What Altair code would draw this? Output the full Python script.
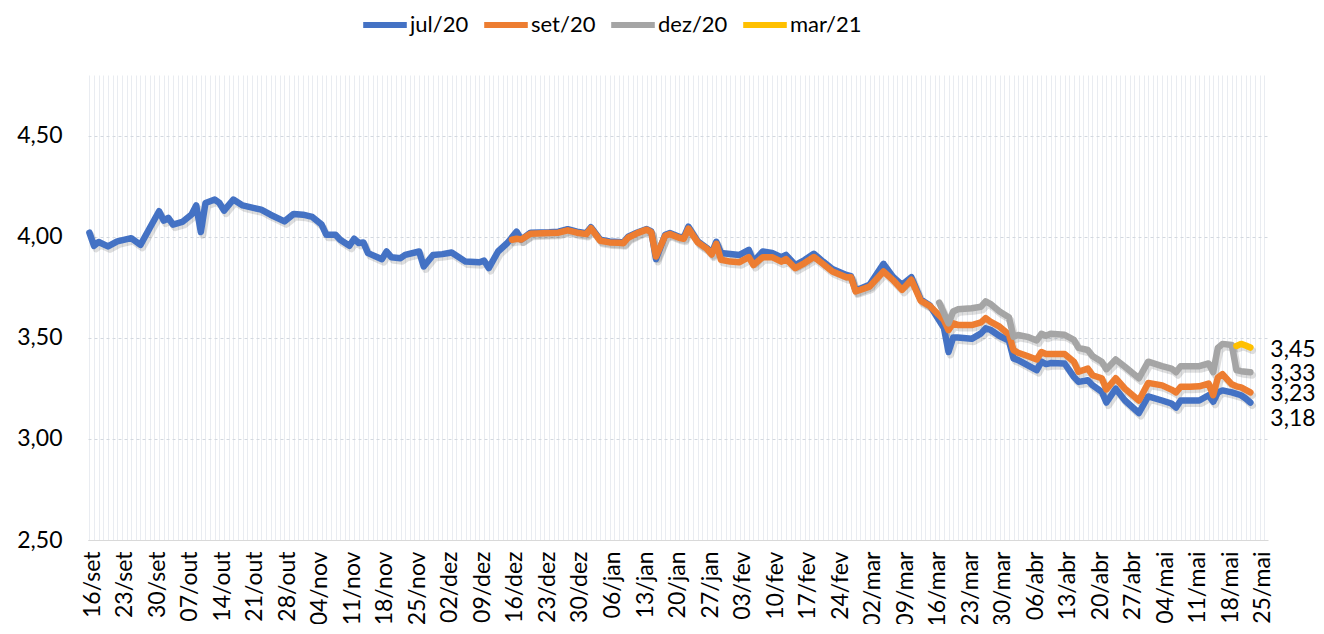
import json
import altair as alt
import pandas as pd

SERIES = ["jul/20", "set/20", "dez/20", "mar/21"]
COLORS = ["#4472C4", "#ED7D31", "#A5A5A5", "#FFC000"]

WEEK_LABELS = ["16/set", "23/set", "30/set", "07/out", "14/out", "21/out", "28/out",
               "04/nov", "11/nov", "18/nov", "25/nov", "02/dez", "09/dez", "16/dez",
               "23/dez", "30/dez", "06/jan", "13/jan", "20/jan", "27/jan", "03/fev",
               "10/fev", "17/fev", "24/fev", "02/mar", "09/mar", "16/mar", "23/mar",
               "30/mar", "06/abr", "13/abr", "20/abr", "27/abr", "04/mai", "11/mai",
               "18/mai", "25/mai"]
Y_TICKS = [2.5, 3.0, 3.5, 4.0, 4.5]

# day = days since 16/set/2019
JUL_DAY = [0, 1, 2, 4, 6, 9, 11, 13, 15, 16, 17, 18, 20, 22, 23, 24, 25, 27, 28, 29, 31, 33,
           36, 37, 39, 42, 44, 46, 48, 50, 51, 53, 54, 56, 57, 58, 59, 60, 63, 64, 65, 67,
           68, 71, 72, 74, 76, 78, 81, 84, 85, 86, 88, 90, 92, 93, 95, 99, 101, 103, 105,
           107, 108, 110, 112, 114, 115, 116, 118, 120, 121, 122, 124, 125, 127, 128, 129,
           131, 133, 134, 135, 136, 138, 140, 142, 143, 145, 147, 149, 150, 152, 154, 156,
           158, 160, 163, 164, 165, 168, 171, 173, 175, 177, 179, 181, 184, 185, 186, 187,
           190, 192, 193, 194, 196, 198, 199, 200, 202, 204, 205, 206, 207, 210, 212, 213,
           215, 216, 218, 219, 221, 223, 226, 228, 231, 233, 234, 235, 237, 239, 241, 242,
           243, 244, 246, 248, 249, 250]
JUL_VAL = [4.02, 3.955, 3.974, 3.952, 3.977, 3.993, 3.96, 4.043, 4.126, 4.08, 4.093, 4.06,
           4.073, 4.11, 4.155, 4.023, 4.167, 4.184, 4.167, 4.129, 4.184, 4.155, 4.139, 4.134,
           4.109, 4.076, 4.113, 4.109, 4.098, 4.06, 4.01, 4.01, 3.985, 3.955, 3.99, 3.969,
           3.972, 3.919, 3.889, 3.927, 3.899, 3.894, 3.91, 3.927, 3.853, 3.91, 3.914, 3.922,
           3.877, 3.874, 3.882, 3.845, 3.927, 3.969, 4.025, 3.986, 4.02, 4.022, 4.025, 4.037,
           4.025, 4.018, 4.047, 3.985, 3.977, 3.974, 3.972, 4.0, 4.021, 4.038, 4.026, 3.89,
           4.01, 4.018, 4.0, 3.997, 4.05, 3.977, 3.944, 3.919, 3.975, 3.92, 3.915, 3.91,
           3.935, 3.877, 3.927, 3.92, 3.899, 3.91, 3.86, 3.885, 3.916, 3.877, 3.84, 3.811,
           3.805, 3.734, 3.762, 3.866, 3.803, 3.762, 3.80, 3.69, 3.66, 3.55, 3.43, 3.502,
           3.502, 3.495, 3.522, 3.547, 3.54, 3.509, 3.487, 3.398, 3.39, 3.365, 3.34, 3.382,
           3.37, 3.375, 3.373, 3.307, 3.282, 3.29, 3.266, 3.233, 3.18, 3.248, 3.19, 3.128,
           3.21, 3.19, 3.175, 3.155, 3.19, 3.19, 3.19, 3.216, 3.184, 3.23, 3.24, 3.23, 3.216,
           3.20, 3.18]

SET_DAY = [91, 92, 93, 95, 99, 101, 103, 105, 107, 108, 110, 112, 114, 115, 116, 118, 120,
           121, 122, 124, 125, 127, 128, 129, 131, 133, 134, 135, 136, 138, 140, 142, 143,
           145, 147, 149, 150, 152, 154, 156, 158, 160, 163, 164, 165, 168, 171, 173, 175,
           177, 179, 181, 184, 185, 186, 187, 190, 192, 193, 194, 196, 198, 199, 200, 202,
           204, 205, 206, 207, 210, 212, 213, 215, 216, 218, 219, 221, 223, 226, 228, 231,
           233, 234, 235, 237, 239, 241, 242, 243, 244, 246, 247, 248, 250]
SET_VAL = [3.985, 3.99, 3.986, 4.015, 4.018, 4.02, 4.032, 4.02, 4.013, 4.042, 3.98, 3.972,
           3.97, 3.968, 3.995, 4.018, 4.035, 4.022, 3.902, 4.005, 4.013, 3.995, 3.99, 4.04,
           3.972, 3.94, 3.912, 3.965, 3.886, 3.877, 3.874, 3.899, 3.86, 3.899, 3.899, 3.877,
           3.89, 3.845, 3.87, 3.9, 3.865, 3.828, 3.80, 3.80, 3.729, 3.753, 3.828, 3.787,
           3.737, 3.787, 3.684, 3.657, 3.588, 3.538, 3.572, 3.564, 3.563, 3.576, 3.597, 3.58,
           3.555, 3.517, 3.439, 3.426, 3.41, 3.393, 3.43, 3.42, 3.42, 3.42, 3.382, 3.332,
           3.348, 3.315, 3.30, 3.245, 3.30, 3.248, 3.19, 3.277, 3.265, 3.244, 3.23, 3.258,
           3.258, 3.26, 3.274, 3.216, 3.303, 3.32, 3.27, 3.26, 3.255, 3.23]

DEZ_DAY = [183, 185, 186, 187, 190, 192, 193, 194, 196, 198, 199, 200, 202, 204, 205, 206,
           207, 210, 212, 213, 215, 216, 218, 219, 221, 223, 226, 228, 231, 233, 234, 235,
           237, 239, 241, 242, 243, 244, 246, 247, 248, 250]
DEZ_VAL = [3.674, 3.572, 3.63, 3.641, 3.646, 3.654, 3.68, 3.668, 3.63, 3.602, 3.505, 3.514,
           3.505, 3.487, 3.52, 3.51, 3.52, 3.515, 3.49, 3.45, 3.44, 3.41, 3.382, 3.345,
           3.393, 3.357, 3.30, 3.382, 3.36, 3.348, 3.33, 3.36, 3.36, 3.36, 3.373, 3.33,
           3.45, 3.47, 3.465, 3.34, 3.335, 3.33]

MAR_DAY = [247, 248, 249, 250]
MAR_VAL = [3.46, 3.47, 3.462, 3.452]

rows = []
for name, days, vals in [("jul/20", JUL_DAY, JUL_VAL), ("set/20", SET_DAY, SET_VAL),
                         ("dez/20", DEZ_DAY, DEZ_VAL), ("mar/21", MAR_DAY, MAR_VAL)]:
    for d, v in zip(days, vals):
        rows.append({"series": name, "day": d, "value": v})
df = pd.DataFrame(rows)

end = df.groupby("series", sort=False).tail(1).copy()
end["label"] = end["value"].map(lambda v: f"{v:.2f}".replace(".", ","))

FONT = "Lato"
FS = 23

x_label_expr = ("datum.value % 7 === 0 ? " + json.dumps(WEEK_LABELS) +
                "[datum.value / 7] : ''")

x_enc = alt.X("day:Q",
              scale=alt.Scale(domain=[-0.3, 253.8], nice=False, zero=False),
              axis=alt.Axis(values=list(range(0, 254)), tickCount=400,
                            labelExpr=x_label_expr,
                            grid=True, gridColor="#e9ecf1", gridWidth=1,
                            ticks=False, domainColor="#d9d9d9", domainWidth=1,
                            labelAngle=270, labelFont=FONT, labelFontSize=FS,
                            labelColor="black", labelPadding=11, labelOffset=3,
                            labelOverlap=False,
                            labelFlush=False, labelBound=False, title=None))
y_enc = alt.Y("value:Q",
              scale=alt.Scale(domain=[2.5, 4.8], nice=False, zero=False),
              axis=alt.Axis(values=Y_TICKS,
                            labelExpr="replace(format(datum.value, '.2f'), '.', ',')",
                            grid=True, gridDash=[3, 3], gridColor="#d3d8df",
                            domain=False, ticks=False, labelFont=FONT, labelFontSize=FS,
                            labelColor="black", labelPadding=26, title=None))

base = alt.Chart(df)

shadow = base.mark_line(strokeWidth=7, color="black", opacity=0.13, xOffset=2, yOffset=3,
                        strokeCap="round", strokeJoin="round").encode(
    x="day:Q", y="value:Q", detail="series:N")

lines = base.mark_line(strokeWidth=6.5, strokeCap="round", strokeJoin="round").encode(
    x=x_enc, y=y_enc,
    color=alt.Color("series:N", scale=alt.Scale(domain=SERIES, range=COLORS),
                    legend=alt.Legend(title=None, orient="none", legendX=272, legendY=-75,
                                      direction="horizontal", symbolType="stroke",
                                      symbolStrokeWidth=6, symbolSize=1900,
                                      labelFont=FONT, labelFontSize=22, labelColor="black",
                                      columnPadding=3, labelOffset=0)))

LABEL_DY = {"mar/21": 2, "dez/20": 2, "set/20": 2, "jul/20": 16}
texts = []
for s in SERIES:
    texts.append(alt.Chart(end[end["series"] == s]).mark_text(
        align="left", baseline="middle", dx=20, dy=LABEL_DY[s], font=FONT, fontSize=FS,
        color="black").encode(x="day:Q", y="value:Q", text="label:N"))

chart = alt.layer(shadow, lines, *texts).properties(
    width=1180, height=465,
    autosize=alt.AutoSizeParams(type="none"),
    padding={"left": 80, "top": 67, "right": 48, "bottom": 84},
).configure_view(stroke=None)

chart.save("out.html", embed_options={"renderer": "svg", "actions": False})
